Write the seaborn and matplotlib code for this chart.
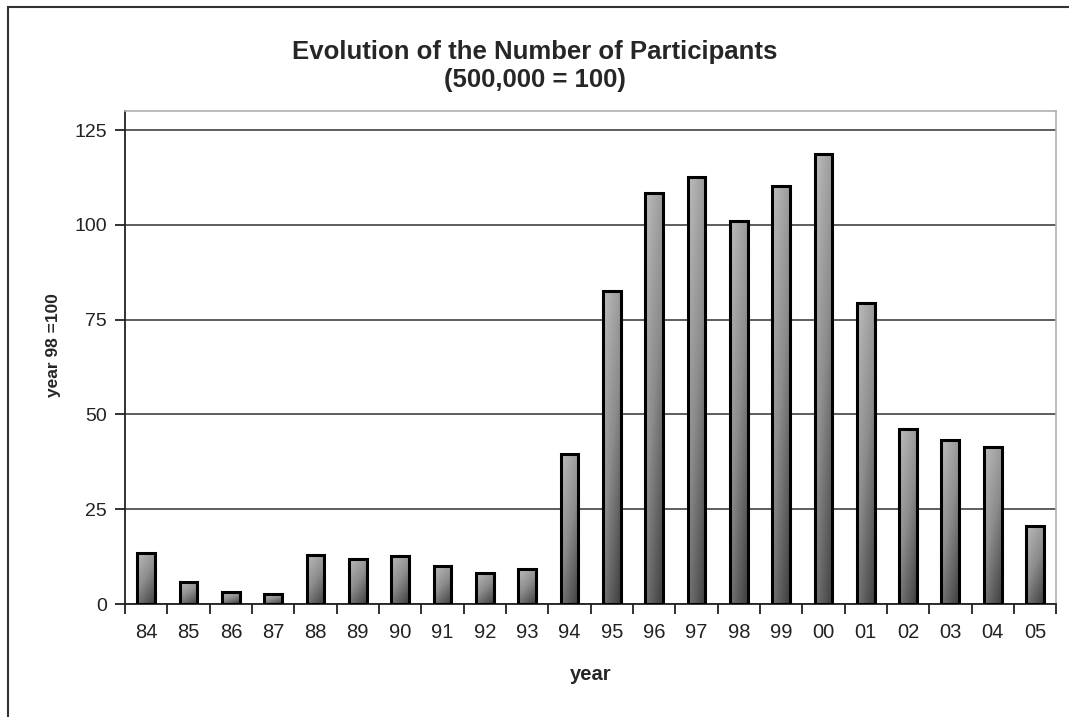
import numpy as np
import pandas as pd
import matplotlib
matplotlib.use("Agg")
import matplotlib.pyplot as plt
import seaborn as sns
from matplotlib.colors import LinearSegmentedColormap
from matplotlib.patches import Rectangle

years = ["84", "85", "86", "87", "88", "89", "90", "91", "92", "93", "94",
         "95", "96", "97", "98", "99", "00", "01", "02", "03", "04", "05"]
participants = [13.5, 5.7, 3.1, 2.6, 12.9, 11.9, 12.7, 10.0, 8.2, 9.2, 39.6,
                82.5, 108.5, 112.6, 101.0, 110.4, 118.6, 79.3, 46.2, 43.4, 41.4, 20.6]
y_ticks = [0, 25, 50, 75, 100, 125]

df = pd.DataFrame({"year": years, "value": participants})

sns.set_style("white")
plt.rcParams["font.family"] = ["Liberation Sans", "DejaVu Sans"]

fig = plt.figure(figsize=(10.69, 7.17), dpi=100)
ax = fig.add_axes([0.117, 0.1576, 0.871, 0.6872])

sns.barplot(data=df, x="year", y="value", color="#999999", width=0.42,
            edgecolor="black", linewidth=2.2, ax=ax)

# shaded bars: light top-left -> dark bottom-right
cmap = LinearSegmentedColormap.from_list("bar", ["#bcbcbc", "#8c8c8c", "#3e3e3e"])
gx, gy = np.meshgrid(np.linspace(0, 1, 40), np.linspace(0, 1, 200))
grad = 0.35 * gx + 0.65 * (1 - gy)   # row 0 = bottom with origin="lower"
for p in ax.patches:
    x0, y0 = p.get_x(), p.get_y()
    w, h = p.get_width(), p.get_height()
    im = ax.imshow(grad, extent=[x0, x0 + w, y0, y0 + h], cmap=cmap,
                   aspect="auto", origin="lower", zorder=2.5, vmin=0, vmax=1)
    im.set_clip_path(Rectangle((x0, y0), w, h, transform=ax.transData))
    p.set_facecolor("none")
    p.set_zorder(3)
ax.set_aspect("auto")
ax.set_ylim(0, 130)
ax.set_xlim(-0.5, len(years) - 0.5)

# grid + frame
ax.set_yticks(y_ticks)
ax.yaxis.grid(True, color="#505050", linewidth=1.3)
ax.set_axisbelow(True)
for s in ["top", "right"]:
    ax.spines[s].set_visible(True)
    ax.spines[s].set_color("#b0b0b0")
    ax.spines[s].set_linewidth(1.2)
for s in ["left", "bottom"]:
    ax.spines[s].set_color("#222222")
    ax.spines[s].set_linewidth(1.3)

# category ticks between bars
ax.set_xticks(np.arange(len(years)))
ax.set_xticklabels(years)
ax.set_xticks(np.arange(-0.5, len(years)), minor=True)
ax.tick_params(axis="x", which="major", length=0, pad=14, labelsize=14.5, colors="#222222")
ax.tick_params(axis="x", which="minor", length=7, width=1.3, direction="out",
               color="#222222", bottom=True)
ax.tick_params(axis="y", length=7, width=1.3, direction="out", left=True,
               labelsize=14, pad=6, colors="#222222")

ax.set_xlabel("year", fontsize=14.5, fontweight="bold", labelpad=16)
ax.set_ylabel("year 98 =100", fontsize=12.5, fontweight="bold")
ax.yaxis.set_label_coords(-0.069, 0.525)

fig.text(0.5, 0.928, "Evolution of the Number of Participants", ha="center",
         va="center", fontsize=18.5, fontweight="bold")
fig.text(0.5, 0.888, "(500,000 = 100)", ha="center", va="center",
         fontsize=18.5, fontweight="bold")

# outer frame around the whole chart
fig.patches.append(Rectangle((0.0075, -0.01), 1.2, 1.0, transform=fig.transFigure,
                             fill=False, edgecolor="#333333", linewidth=1.5))

fig.savefig("out.png", dpi=100)
